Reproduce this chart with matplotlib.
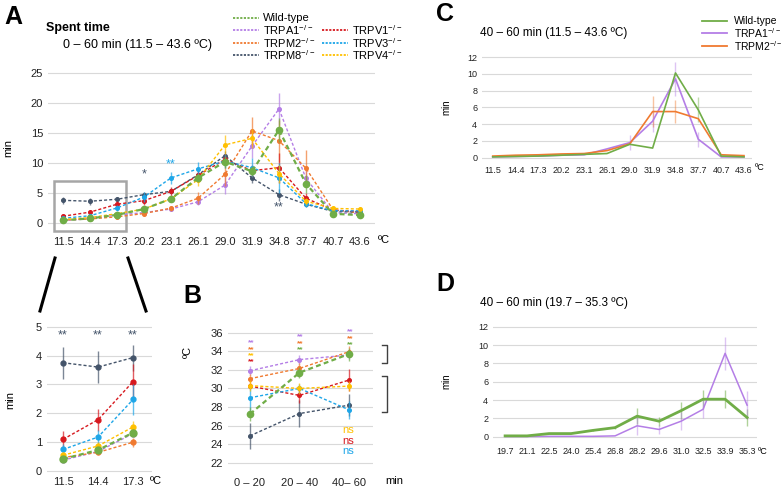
import numpy as np
import matplotlib.pyplot as plt
from matplotlib.lines import Line2D
from matplotlib.patches import Rectangle

plt.rcParams['font.family'] = ['Liberation Sans', 'DejaVu Sans']
plt.rcParams['mathtext.default'] = 'regular'

W, H = 782, 488

# ---- data ----
temps_a = ['11.5', '14.4', '17.3', '20.2', '23.1', '26.1', '29.0', '31.9', '34.8', '37.7', '40.7', '43.6']
wt_a = [0.42, 0.73, 1.33, 2.3, 4.0, 7.5, 10.2, 8.6, 15.5, 6.5, 1.5, 1.3]
wt_a_err = [0.08, 0.1, 0.12, 0.3, 0.4, 0.7, 1.0, 0.8, 2.0, 1.5, 0.3, 0.2]
trpa1_a = [0.38, 0.68, 1.3, 1.7, 2.3, 3.5, 6.3, 12.8, 19.0, 7.4, 1.7, 1.5]
trpa1_a_err = [0.05, 0.1, 0.1, 0.3, 0.3, 0.5, 1.5, 2.0, 2.6, 1.5, 0.3, 0.3]
trpm2_a = [0.47, 0.65, 1.0, 1.55, 2.45, 4.1, 8.1, 15.35, 13.7, 9.1, 2.2, 1.6]
trpm2_a_err = [0.07, 0.1, 0.15, 0.3, 0.4, 1.0, 2.0, 2.3, 3.5, 3.0, 0.4, 0.3]
trpm8_a = [3.75, 3.6, 3.93, 4.7, 5.25, 8.0, 11.2, 7.5, 4.7, 3.1, 1.9, 1.8]
trpm8_a_err = [0.55, 0.55, 0.45, 0.5, 0.5, 0.6, 0.8, 0.9, 1.0, 0.4, 0.3, 0.2]
trpv1_a = [1.1, 1.78, 3.1, 3.7, 5.25, 7.9, 10.6, 8.7, 9.2, 4.1, 2.1, 1.9]
trpv1_a_err = [0.3, 0.38, 0.6, 0.7, 0.8, 0.7, 0.8, 1.0, 2.5, 0.8, 0.3, 0.2]
trpv3_a = [0.75, 1.18, 2.48, 4.3, 7.5, 9.0, 10.3, 9.2, 7.5, 3.2, 2.0, 2.0]
trpv3_a_err = [0.2, 0.25, 0.55, 0.8, 1.0, 1.2, 1.2, 1.6, 2.5, 0.5, 0.3, 0.3]
trpv4_a = [0.55, 0.87, 1.53, 2.3, 4.0, 7.2, 13.0, 14.1, 8.2, 3.6, 2.4, 2.3]
trpv4_a_err = [0.1, 0.15, 0.22, 0.3, 0.5, 1.0, 1.6, 1.6, 1.5, 0.6, 0.3, 0.3]

periods_b = ['0 – 20', '20 – 40', '40– 60']
wt_b = [27.25, 31.7, 33.7]
wt_b_err = [0.8, 0.6, 0.7]
trpa1_b = [31.9, 33.1, 33.6]
trpa1_b_err = [0.5, 0.5, 0.4]
trpm2_b = [31.05, 32.15, 33.95]
trpm2_b_err = [0.5, 0.6, 0.6]
trpm8_b = [24.9, 27.3, 28.2]
trpm8_b_err = [1.4, 1.5, 1.2]
trpv1_b = [30.25, 29.25, 30.9]
trpv1_b_err = [0.3, 0.8, 1.2]
trpv3_b = [29.0, 30.0, 27.7]
trpv3_b_err = [1.4, 0.5, 1.0]
trpv4_b = [30.3, 30.0, 30.25]
trpv4_b_err = [0.6, 0.6, 0.5]

wt_c = [0.1, 0.15, 0.2, 0.3, 0.4, 0.5, 1.6, 1.15, 10.1, 5.7, 0.2, 0.1]
wt_c_err = [0, 0, 0, 0, 0, 0, 0, 0, 0, 1.5, 0, 0]
trpa1_c = [0.1, 0.15, 0.2, 0.3, 0.35, 1.05, 1.8, 4.35, 9.4, 2.2, 0.1, 0.1]
trpa1_c_err = [0, 0, 0, 0, 0, 0, 0.9, 1.3, 2.0, 0.9, 0, 0]
trpm2_c = [0.2, 0.3, 0.35, 0.45, 0.5, 0.85, 1.65, 5.5, 5.5, 4.65, 0.35, 0.25]
trpm2_c_err = [0, 0, 0, 0, 0, 0, 0, 1.8, 1.4, 0, 0, 0]

temps_d = ['19.7', '21.1', '22.5', '24.0', '25.4', '26.8', '28.2', '29.6', '31.0', '32.5', '33.9', '35.3']
wt_d = [0.1, 0.1, 0.35, 0.35, 0.7, 1.0, 2.25, 1.7, 2.85, 4.1, 4.1, 2.1]
wt_d_err = [0, 0, 0, 0, 0.1, 0.2, 0.9, 0.5, 0.9, 1.0, 1.0, 0.9]
trpa1_d = [0.03, 0.03, 0.05, 0.05, 0.05, 0.1, 1.2, 0.8, 1.7, 3.0, 9.1, 3.45]
trpa1_d_err = [0, 0, 0, 0, 0, 0, 1.0, 0.5, 1.0, 1.0, 1.8, 1.5]

names = ['Wild-type', 'TRPA1$^{-/-}$', 'TRPM2$^{-/-}$', 'TRPM8$^{-/-}$',
         'TRPV1$^{-/-}$', 'TRPV3$^{-/-}$', 'TRPV4$^{-/-}$']
c_wt, c_a1, c_m2, c_m8 = '#70ad47', '#b47ee6', '#f07a30', '#44546a'
c_v1, c_v3, c_v4 = '#d7191f', '#1ea6e8', '#ffc000'

series_a = [(trpa1_a, trpa1_a_err, c_a1), (trpm2_a, trpm2_a_err, c_m2),
            (trpm8_a, trpm8_a_err, c_m8), (trpv1_a, trpv1_a_err, c_v1),
            (trpv3_a, trpv3_a_err, c_v3), (trpv4_a, trpv4_a_err, c_v4)]
series_b = [(trpa1_b, trpa1_b_err, c_a1), (trpm2_b, trpm2_b_err, c_m2),
            (trpm8_b, trpm8_b_err, c_m8), (trpv1_b, trpv1_b_err, c_v1),
            (trpv3_b, trpv3_b_err, c_v3), (trpv4_b, trpv4_b_err, c_v4)]

fig = plt.figure(figsize=(W / 100, H / 100), dpi=100)


def box(x0, y0, x1, y1):
    return [x0 / W, 1 - y1 / H, (x1 - x0) / W, (y1 - y0) / H]


def ftext(x, y, s, **kw):
    fig.text(x / W, 1 - y / H, s, **kw)


def fline(xs, ys, **kw):
    fig.add_artist(Line2D([x / W for x in xs], [1 - y / H for y in ys], **kw))


def style(ax, yticks, size=8):
    for s in ax.spines.values():
        s.set_visible(False)
    ax.set_yticks(yticks)
    ax.grid(axis='y', color='#d9d9d9', lw=0.8)
    ax.set_axisbelow(True)
    ax.tick_params(length=0, labelsize=size, colors='#222222')


def dashed(ax, x, y, err, color, lw=1.0, ms=2.6):
    ax.errorbar(x, y, yerr=err, fmt='none', ecolor=color, elinewidth=1.0, alpha=0.7)
    ax.plot(x, y, color=color, lw=lw, ls=(0, (2.2, 1.5)), marker='o', ms=ms, mec=color)


# ---- panel A ----
xa = np.arange(len(temps_a))
ax = fig.add_axes(box(48, 70, 375, 230))
style(ax, [0, 5, 10, 15, 20, 25])
for y, e, c in series_a:
    dashed(ax, xa, y, e, c)
dashed(ax, xa, wt_a, wt_a_err, c_wt, lw=1.6, ms=4.5)
ax.set_xlim(-0.556, 11.556)
ax.set_ylim(-1.2, 25.5)
ax.set_xticks(xa, temps_a)
ax.tick_params(axis='x', pad=5)
ax.add_patch(Rectangle((-0.33, -1.3), 2.66, 8.2, fill=False, ec='#a6a6a6', lw=1.8, clip_on=False))
ax.text(3, 7.6, '*', color=c_m8, ha='center', fontsize=9)
ax.text(4, 9.3, '**', color=c_v3, ha='center', fontsize=9)
ax.text(8, 2.0, '**', color=c_m8, ha='center', fontsize=9)
ftext(378, 240, 'ºC', fontsize=8, va='center')
ftext(8, 148, 'min', fontsize=8, rotation=90, va='center', ha='center')
ftext(4, 17, 'A', fontsize=18, weight='bold', va='center')
ftext(46, 28, 'Spent time', fontsize=9, weight='bold', va='center')
ftext(63, 45, '0 – 60 min (11.5 – 43.6 ºC)', fontsize=9, va='center')

# legend of A
leg_cols = [c_wt, c_a1, c_m2, c_m8, c_v1, c_v3, c_v4]
for i, (nm, c) in enumerate(zip(names, leg_cols)):
    col, row = (0, i) if i < 4 else (1, i - 3)
    lx = 233 if col == 0 else 322
    ly = 18 + row * 12.3
    fline([lx, lx + 26], [ly, ly], color=c, lw=1.3, ls=(0, (1.2, 0.8)))
    ftext(lx + 30, ly, nm, fontsize=8, va='center')

# zoom connector lines
fline([55, 40], [258, 311], color='black', lw=2.2)
fline([128, 146], [258, 311], color='black', lw=2.2)

# ---- inset of A (first three temperatures) ----
xi = np.arange(3)
ax = fig.add_axes(box(47, 322, 152, 474))
style(ax, [0, 1, 2, 3, 4, 5])
for y, e, c in series_a:
    dashed(ax, xi, y[:3], e[:3], c, ms=3.5)
dashed(ax, xi, wt_a[:3], wt_a_err[:3], c_wt, lw=1.6, ms=5)
ax.set_xlim(-0.46, 2.54)
ax.set_ylim(-0.1, 5.16)
ax.set_xticks(xi, temps_a[:3])
ax.tick_params(axis='x', pad=2)
for k in xi:
    ax.text(k, 4.6, '**', color=c_m8, ha='center', fontsize=9)
ftext(150, 481, 'ºC', fontsize=8, va='center')
ftext(10, 400, 'min', fontsize=8, rotation=90, va='center', ha='center')

# ---- panel B ----
xb = np.arange(3)
ax = fig.add_axes(box(228, 328, 373, 467))
style(ax, [22, 24, 26, 28, 30, 32, 34, 36])
for y, e, c in series_b:
    dashed(ax, xb, y, e, c)
dashed(ax, xb, wt_b, wt_b_err, c_wt, lw=1.6, ms=4.5)
ax.set_xlim(-0.444, 2.485)
ax.set_ylim(21.55, 36.5)
ax.set_xticks(xb, periods_b)
ax.tick_params(axis='x', pad=8)
star_rows = [[c_a1, c_m2, c_v4, c_v1], [c_a1, c_m2, c_wt], [c_a1, c_m2, c_wt]]
star_top = [340, 334, 329]
for k, cols in enumerate(star_rows):
    for j, c in enumerate(cols):
        ftext(251 + k * 49.5, star_top[k] + j * 6.3 + 3, '**', color=c, fontsize=6,
              ha='center', va='center', weight='bold')
for j, c in enumerate([c_v4, c_v1, c_v3]):
    ftext(348, 430 + j * 10.5, 'ns', color=c, fontsize=8, ha='center', va='center')
fline([382, 387, 387, 382], [345, 345, 363, 363], color='#404040', lw=1)
fline([382, 387, 387, 382], [376, 376, 412, 412], color='#404040', lw=1)
ftext(188, 352, 'ºC', fontsize=8, rotation=90, va='center', ha='center')
ftext(385, 481, 'min', fontsize=8, va='center')
ftext(183, 296, 'B', fontsize=18, weight='bold', va='center')

# ---- panel C ----
ax = fig.add_axes(box(482, 55, 752, 160))
style(ax, [0, 2, 4, 6, 8, 10, 12], size=6.5)
for y, e, c in [(wt_c, wt_c_err, c_wt), (trpa1_c, trpa1_c_err, c_a1), (trpm2_c, trpm2_c_err, c_m2)]:
    ax.errorbar(xa, y, yerr=e, fmt='none', ecolor=c, elinewidth=1.0, alpha=0.45)
for y, c in [(trpa1_c, c_a1), (trpm2_c, c_m2), (wt_c, c_wt)]:
    ax.plot(xa, y, color=c, lw=1.2)
ax.set_xlim(-0.47, 11.35)
ax.set_ylim(-0.27, 12.24)
ax.set_xticks(xa, temps_a)
ax.tick_params(axis='x', pad=4)
ftext(755, 168, 'ºC', fontsize=6.5, va='center')
ftext(446, 107, 'min', fontsize=7, rotation=90, va='center', ha='center')
ftext(436, 14, 'C', fontsize=18, weight='bold', va='center')
ftext(480, 33, '40 – 60 min (11.5 – 43.6 ºC)', fontsize=8.5, va='center')
for i, (nm, c) in enumerate(zip(names[:3], [c_wt, c_a1, c_m2])):
    ly = 20.5 + i * 12.8
    fline([702, 727], [ly, ly], color=c, lw=1.3)
    ftext(734, ly, nm, fontsize=7.5, va='center')

# ---- panel D ----
ax = fig.add_axes(box(493, 324, 757, 440))
style(ax, [0, 2, 4, 6, 8, 10, 12], size=6.5)
xd = np.arange(len(temps_d))
ax.errorbar(xd, wt_d, yerr=wt_d_err, fmt='none', ecolor=c_wt, elinewidth=1.0, alpha=0.55)
ax.errorbar(xd, trpa1_d, yerr=trpa1_d_err, fmt='none', ecolor=c_a1, elinewidth=1.0, alpha=0.45)
ax.plot(xd, trpa1_d, color=c_a1, lw=1.1)
ax.plot(xd, wt_d, color=c_wt, lw=2.0)
ax.set_xlim(-0.55, 11.45)
ax.set_ylim(-0.35, 12.3)
ax.set_xticks(xd, temps_d)
ax.tick_params(axis='x', pad=5)
ftext(758, 451, 'ºC', fontsize=6.5, va='center')
ftext(446, 381, 'min', fontsize=7, rotation=90, va='center', ha='center')
ftext(436, 284, 'D', fontsize=18, weight='bold', va='center')
ftext(480, 303, '40 – 60 min (19.7 – 35.3 ºC)', fontsize=8.5, va='center')

fig.savefig('out.png', dpi=100)
